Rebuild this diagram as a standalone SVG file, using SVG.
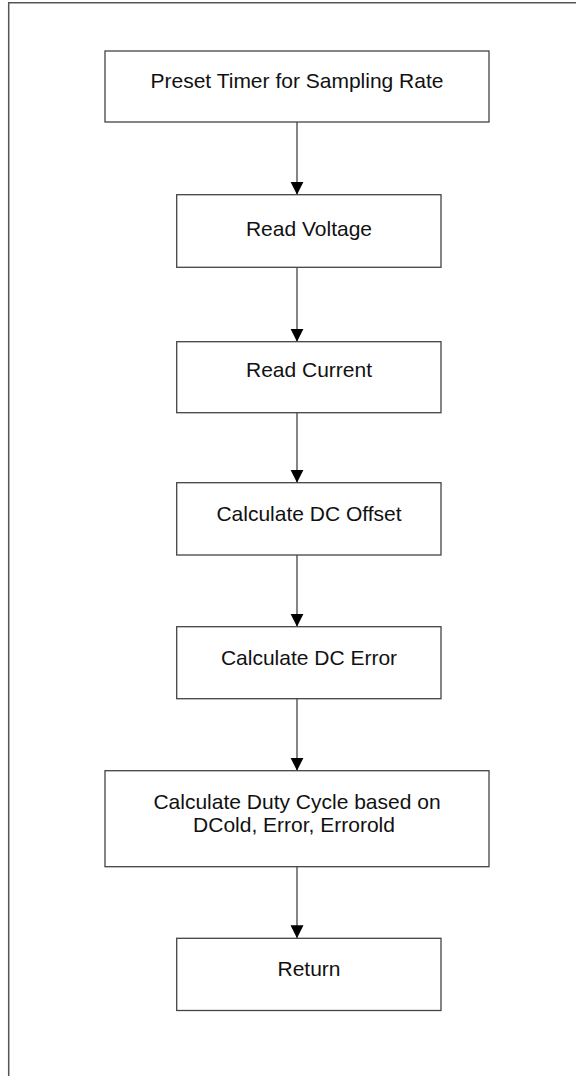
<svg xmlns="http://www.w3.org/2000/svg" width="576" height="1076" viewBox="0 0 576 1076">
<style>
.frame{fill:none;stroke:#555;stroke-width:1.5}
.box{fill:#fff;stroke:#444;stroke-width:1.3}
.lbl{font-family:"Liberation Sans",Arial,sans-serif;font-size:21px;fill:#111;text-anchor:middle}
.conn{stroke:#444;stroke-width:1.3;fill:none;marker-end:url(#ah)}
</style>
<defs>
<marker id="ah" markerUnits="userSpaceOnUse" markerWidth="14" markerHeight="14" refX="13" refY="6.5" orient="auto">
<path d="M0,0 L13,6.5 L0,13 Z" fill="#000"/>
</marker>
</defs>
<rect width="576" height="1076" fill="#fff"/>
<path class="frame" d="M8.7,1076 V2.7 H576"/>
<g id="connectors">
<line class="conn" x1="297" y1="122" x2="297" y2="194.7"/>
<line class="conn" x1="297" y1="267.3" x2="297" y2="341.7"/>
<line class="conn" x1="297" y1="412.7" x2="297" y2="482.7"/>
<line class="conn" x1="297" y1="555" x2="297" y2="626.7"/>
<line class="conn" x1="297" y1="698.7" x2="297" y2="770.7"/>
<line class="conn" x1="297" y1="866.7" x2="297" y2="938.3"/>
</g>
<g id="n1"><rect class="box" x="105" y="51" width="384" height="71"/><text class="lbl" x="297" y="88.3">Preset Timer for Sampling Rate</text></g>
<g id="n2"><rect class="box" x="176.7" y="194.7" width="264.3" height="72.6"/><text class="lbl" x="309" y="236">Read Voltage</text></g>
<g id="n3"><rect class="box" x="176.7" y="341.7" width="264.3" height="71"/><text class="lbl" x="309" y="377.3">Read Current</text></g>
<g id="n4"><rect class="box" x="176.7" y="482.7" width="264.3" height="72.3"/><text class="lbl" x="309" y="521">Calculate DC Offset</text></g>
<g id="n5"><rect class="box" x="176.7" y="626.7" width="264.3" height="72"/><text class="lbl" x="309" y="665">Calculate DC Error</text></g>
<g id="n6"><rect class="box" x="105" y="770.7" width="384" height="96"/><text class="lbl" x="297" y="809">Calculate Duty Cycle based on</text><text class="lbl" x="294" y="832">DCold, Error, Errorold</text></g>
<g id="n7"><rect class="box" x="176.7" y="938.3" width="264.3" height="72.2"/><text class="lbl" x="309" y="976">Return</text></g>
</svg>
